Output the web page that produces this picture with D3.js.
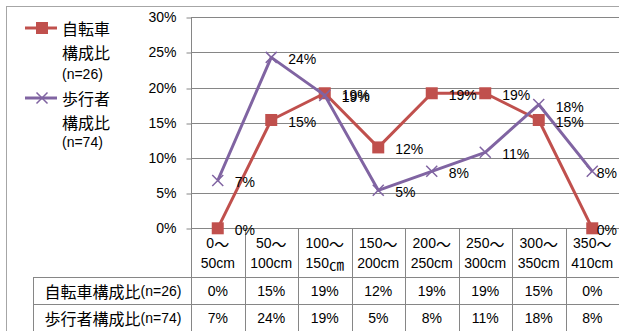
<!DOCTYPE html>
<html>
<head>
<meta charset="utf-8">
<script src="https://cdn.jsdelivr.net/npm/d3@7"></script>
<style>
  html, body { margin: 0; padding: 0; background: #fff; }
  svg { display: block; }
  text { font-family: "Liberation Sans", "Noto Sans CJK JP", sans-serif; fill: #000; }
</style>
</head>
<body>
<svg id="chart" width="619" height="331"></svg>
<script>
// Distance bands (two-line labels) and the share of each group per band
const categories = ["0〜\n50cm", "50〜\n100cm", "100〜\n150㎝", "150〜\n200cm",
                    "200〜\n250cm", "250〜\n300cm", "300〜\n350cm", "350〜\n410cm"];
const seriesNames = ["自転車構成比(n=26)", "歩行者構成比(n=74)"];
const bicycleShare = [0, 0.154, 0.192, 0.115, 0.192, 0.192, 0.154, 0];
const pedestrianShare = [0.068, 0.243, 0.189, 0.054, 0.081, 0.108, 0.176, 0.081];
const yTicks = [0, 0.05, 0.10, 0.15, 0.20, 0.25, 0.30];

const colors = ["#C0504D", "#8064A2"];
const gridColor = "#868686";
const fmt = d3.format(".0%");

const svg = d3.select("#chart");
const W = 619, H = 331;

// Chart frame
svg.append("rect").attr("x", 6.5).attr("y", 6.5).attr("width", W + 10).attr("height", H + 10)
  .attr("fill", "#fff").attr("stroke", "#a6a6a6").attr("stroke-width", 1);

const plotLeft = 191, plotRight = 619, plotTop = 17.3, plotBottom = 228.3;
const tableTop = plotBottom, row1 = 277, row2 = 304, tableBottom = H + 2, headLeft = 33;

const x = d3.scaleBand().domain(categories).range([plotLeft, plotRight]);
const y = d3.scaleLinear().domain([0, 0.3]).range([plotBottom, plotTop]);
const cx = c => x(c) + x.bandwidth() / 2;

// Mixed-script text: CJK runs slightly larger than Latin runs
const isCJK = ch => /[\u3000-\u9fff\uff00-\uffef\u3300-\u33ff]/.test(ch);
function richText(sel, str, latinSize, cjkSize) {
  const runs = [];
  for (const ch of str) {
    const k = isCJK(ch);
    if (runs.length && runs[runs.length - 1].k === k) runs[runs.length - 1].s += ch;
    else runs.push({k, s: ch});
  }
  runs.forEach(r => sel.append("tspan")
    .style("font-size", (r.k ? cjkSize : latinSize) + "px")
    .style("font-family", r.k ? '"Noto Sans CJK JP", sans-serif' : '"Liberation Sans", sans-serif')
    .text(r.s));
}

// Horizontal gridlines
svg.append("g").selectAll("line").data(yTicks).join("line")
  .attr("x1", plotLeft).attr("x2", plotRight)
  .attr("y1", d => Math.round(y(d)) + 0.5).attr("y2", d => Math.round(y(d)) + 0.5)
  .attr("stroke", gridColor).attr("stroke-width", 1);

// Y axis with ticks and percent labels
const yAxis = svg.append("g").attr("transform", `translate(${plotLeft + 0.5},0)`)
  .call(d3.axisLeft(y).tickValues(yTicks).tickFormat(fmt).tickSize(5).tickPadding(10));
yAxis.select(".domain").remove();
yAxis.selectAll(".tick line").attr("stroke", gridColor)
  .attr("transform", d => `translate(0,${Math.round(y(d)) + 0.5 - y(d)})`);
yAxis.selectAll(".tick text").style("font-size", "14px").style("font-family", '"Liberation Sans", sans-serif').attr("fill", "#000");

// Vertical axis line running down through the data table
svg.append("line").attr("x1", plotLeft + 0.5).attr("x2", plotLeft + 0.5)
  .attr("y1", plotTop).attr("y2", tableBottom).attr("stroke", gridColor);

// Data table grid
const seps = categories.slice(1).map(c => x(c));
svg.append("g").selectAll("line").data(seps).join("line")
  .attr("x1", d => Math.round(d) + 0.5).attr("x2", d => Math.round(d) + 0.5)
  .attr("y1", tableTop).attr("y2", tableBottom).attr("stroke", gridColor);
[row1, row2].forEach(yy => svg.append("line")
  .attr("x1", headLeft).attr("x2", plotRight).attr("y1", yy + 0.5).attr("y2", yy + 0.5)
  .attr("stroke", gridColor));
svg.append("line").attr("x1", headLeft + 0.5).attr("x2", headLeft + 0.5)
  .attr("y1", row1).attr("y2", tableBottom).attr("stroke", gridColor);

// Category labels (two lines per band)
categories.forEach(c => {
  const [a, b] = c.split("\n");
  const t1 = svg.append("text").attr("x", cx(c)).attr("y", 243).attr("text-anchor", "middle")
    .attr("dominant-baseline", "central");
  richText(t1, a, 14, 15);
  const t2 = svg.append("text").attr("x", cx(c)).attr("y", 263).attr("text-anchor", "middle")
    .attr("dominant-baseline", "central");
  richText(t2, b, 14, 15);
});

// Table rows: series name plus each value
const allSeries = [bicycleShare, pedestrianShare];
const rowY = [291, 318];
allSeries.forEach((vals, i) => {
  const t = svg.append("text").attr("x", (headLeft + plotLeft) / 2 + 1).attr("y", rowY[i])
    .attr("text-anchor", "middle").attr("dominant-baseline", "central");
  richText(t, seriesNames[i], 14, 16);
  svg.append("g").selectAll("text").data(vals).join("text")
    .attr("x", (d, j) => cx(categories[j])).attr("y", rowY[i])
    .attr("text-anchor", "middle").attr("dominant-baseline", "central")
    .style("font-size", "14px").text(d => fmt(d));
});

// Lines and markers
const line = d3.line().x((d, j) => cx(categories[j])).y(d => y(d));
allSeries.forEach((vals, i) => {
  svg.append("path").datum(vals).attr("d", line).attr("fill", "none")
    .attr("stroke", colors[i]).attr("stroke-width", 3).attr("stroke-linejoin", "round");
  const g = svg.append("g");
  if (i === 0) {
    g.selectAll("rect").data(vals).join("rect")
      .attr("x", (d, j) => cx(categories[j]) - 6).attr("y", d => y(d) - 6)
      .attr("width", 12).attr("height", 12).attr("fill", colors[i]);
  } else {
    vals.forEach((d, j) => {
      const px = cx(categories[j]), py = y(d), r = 5.5;
      g.append("path").attr("d", `M${px - r},${py - r}L${px + r},${py + r}M${px - r},${py + r}L${px + r},${py - r}`)
        .attr("stroke", colors[i]).attr("stroke-width", 1.5).attr("fill", "none");
    });
  }
});

// Value labels to the right of each point, kept inside the frame
allSeries.forEach(vals => {
  vals.forEach((d, j) => {
    const t = svg.append("text").attr("x", cx(categories[j]) + 17).attr("y", y(d) + 2)
      .attr("dominant-baseline", "central").style("font-size", "14px").text(fmt(d));
    const w = t.node().getComputedTextLength();
    if (cx(categories[j]) + 17 + w > 617) t.attr("x", 617 - w);
  });
});

// Legend
const legendRows = [[28, 52, 74], [98, 122, 142]];
seriesNames.forEach((name, i) => {
  const ly = legendRows[i][0];
  svg.append("line").attr("x1", 25).attr("x2", 57).attr("y1", ly).attr("y2", ly)
    .attr("stroke", colors[i]).attr("stroke-width", 3);
  if (i === 0) {
    svg.append("rect").attr("x", 36).attr("y", ly - 6).attr("width", 12).attr("height", 12).attr("fill", colors[i]);
  } else {
    const r = 5.5, px = 42;
    svg.append("path").attr("d", `M${px - r},${ly - r}L${px + r},${ly + r}M${px - r},${ly + r}L${px + r},${ly - r}`)
      .attr("stroke", colors[i]).attr("stroke-width", 1.5);
  }
  const parts = [name.slice(0, 3), name.slice(3, 6), name.slice(6)];
  parts.forEach((p, k) => {
    const t = svg.append("text").attr("x", 62).attr("y", legendRows[i][k]).attr("dominant-baseline", "central");
    richText(t, p, 14, 16);
  });
});
</script>
</body>
</html>
